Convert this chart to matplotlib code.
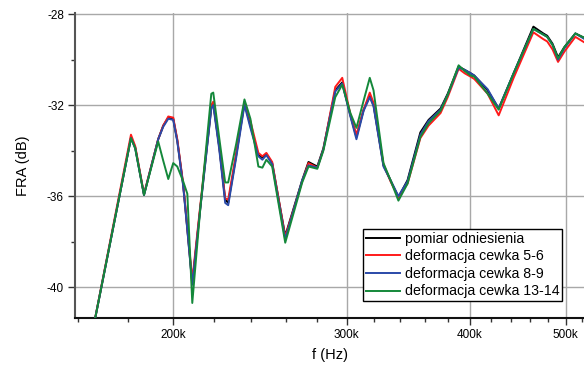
import numpy as np
import matplotlib
matplotlib.use('Agg')
import matplotlib.pyplot as plt
from matplotlib.ticker import FixedLocator, NullFormatter

plt.rcParams['font.family'] = ['Liberation Sans', 'DejaVu Sans']

# frequency in kHz
freq = [164.7, 181.2, 183.0, 186.8, 193.1, 195.4, 197.7, 200.0, 201.9, 204.7,
        206.7, 209.1, 213.0, 218.6, 219.6, 222.7, 225.8, 227.4, 231.7, 236.2,
        239.5, 244.0, 246.3, 248.6, 252.0, 259.8, 270.3, 274.3, 280.0, 284.0,
        292.0, 296.8, 302.5, 306.8, 312.0, 316.5, 319.3, 326.8, 332.2, 338.4,
        345.7, 356.2, 363.1, 373.4, 379.7, 389.5, 395.0, 400.6, 404.0, 416.8,
        427.7, 442.9, 463.8, 474.7, 479.0, 485.0, 491.3, 498.6, 511.6, 522.8]

ref = [-42.5, -33.45, -33.85, -35.95, -33.5, -32.9, -32.55, -32.6, -33.55, -35.5,
       -37.45, -39.85, -36.55, -32.1, -31.9, -33.85, -36.15, -36.3, -34.2, -31.9,
       -32.9, -34.2, -34.3, -34.15, -34.55, -37.75, -35.3, -34.5, -34.7, -33.9,
       -31.35, -31.0, -32.45, -33.4, -32.2, -31.6, -32.0, -34.65, -35.3, -36.05,
       -35.3, -33.2, -32.65, -32.15, -31.5, -30.3, -30.45, -30.6, -30.7, -31.35,
       -32.15, -30.6, -28.55, -28.85, -28.95, -29.3, -29.9, -29.45, -28.85, -29.05]

def_5_6 = [-42.5, -33.3, -33.8, -35.9, -33.5, -32.9, -32.5, -32.55, -33.5, -35.45,
           -37.4, -39.7, -36.45, -32.0, -31.85, -33.8, -36.1, -36.15, -34.1, -31.85,
           -32.7, -34.1, -34.25, -34.1, -34.5, -37.8, -35.35, -34.55, -34.75, -33.95,
           -31.2, -30.8, -32.4, -33.3, -32.2, -31.45, -31.9, -34.6, -35.35, -36.05,
           -35.45, -33.45, -32.9, -32.35, -31.65, -30.4, -30.6, -30.75, -30.85, -31.5,
           -32.45, -30.8, -28.8, -29.1, -29.2, -29.55, -30.1, -29.65, -29.0, -29.25]

def_8_9 = [-42.5, -33.45, -33.9, -35.95, -33.5, -32.95, -32.6, -32.65, -33.6, -35.55,
           -37.5, -39.9, -36.6, -32.15, -32.0, -33.95, -36.3, -36.4, -34.3, -32.0,
           -33.0, -34.25, -34.4, -34.2, -34.6, -37.9, -35.3, -34.65, -34.75, -33.95,
           -31.4, -31.05, -32.5, -33.5, -32.25, -31.65, -32.05, -34.7, -35.3, -36.0,
           -35.35, -33.3, -32.7, -32.2, -31.55, -30.35, -30.45, -30.6, -30.7, -31.3,
           -32.15, -30.6, -28.65, -28.9, -29.0, -29.35, -30.0, -29.5, -28.85, -29.1]

def_13_14 = [-42.5, -33.45, -33.9, -35.95, -33.6, -34.45, -35.25, -34.55, -34.7, -35.35,
             -35.9, -40.7, -36.6, -31.5, -31.45, -33.45, -35.4, -35.4, -33.7, -31.75,
             -32.6, -34.7, -34.75, -34.4, -34.7, -38.05, -35.4, -34.7, -34.8, -34.0,
             -31.65, -31.1, -32.35, -33.0, -31.8, -30.8, -31.35, -34.55, -35.3, -36.2,
             -35.45, -33.4, -32.8, -32.25, -31.55, -30.25, -30.5, -30.7, -30.75, -31.5,
             -32.2, -30.6, -28.65, -28.9, -29.0, -29.35, -29.95, -29.45, -28.85, -29.05]

labels = ['pomiar odniesienia', 'deformacja cewka 5-6',
          'deformacja cewka 8-9', 'deformacja cewka 13-14']
colors = ['#000000', '#ff1a1a', '#2a4aa8', '#14883a']

x_major = [200, 300, 400, 500]
x_major_labels = ['200k', '300k', '400k', '500k']
x_minor = [160, 180, 220, 240, 260, 280, 320, 340, 360, 380, 420, 440, 460, 480, 520]
y_major = [-40, -36, -32, -28]
y_minor = [-38, -34, -30]

fig = plt.figure(figsize=(5.84, 3.65), dpi=100)
ax = fig.add_axes([75 / 584, 1 - 318 / 365, 1 - 75 / 584, (318 - 13) / 365])

for vals, lab, col in zip([ref, def_5_6, def_8_9, def_13_14], labels, colors):
    ax.plot(freq, vals, color=col, lw=1.4, label=lab, zorder=3)

ax.set_xscale('log')
ax.set_xlim(159, 522)
ax.set_ylim(-41.36, -27.95)

ax.xaxis.set_major_locator(FixedLocator(x_major))
ax.set_xticklabels(x_major_labels)
ax.xaxis.set_minor_locator(FixedLocator(x_minor))
ax.xaxis.set_minor_formatter(NullFormatter())
ax.set_yticks(y_major)
ax.set_yticklabels([str(v) for v in y_major])
ax.yaxis.set_minor_locator(FixedLocator(y_minor))

ax.grid(True, which='major', color='#a8a8a8', lw=1.0, zorder=0)
ax.tick_params(which='major', length=5, width=1, labelsize=8.5, color='#333333', pad=3)
ax.tick_params(which='minor', length=3, width=1, color='#333333')

for s in ['top', 'right']:
    ax.spines[s].set_visible(False)
ax.spines['left'].set_color('#555555')
ax.spines['left'].set_linewidth(1.5)
ax.spines['bottom'].set_color('#111111')
ax.spines['bottom'].set_linewidth(1.5)

ax.set_xlabel('f (Hz)', fontsize=10.5, labelpad=5)
ax.set_ylabel('FRA (dB)', fontsize=10.5, labelpad=12)

leg = ax.legend(loc='upper left', bbox_to_anchor=(363 / 584, 1 - 229 / 365),
                bbox_transform=fig.transFigure, fontsize=10.2, frameon=True,
                fancybox=False, framealpha=1, edgecolor='black',
                handlelength=2.4, handletextpad=0.35, labelspacing=0.25,
                borderpad=0.2, borderaxespad=0)
leg.get_frame().set_linewidth(1.0)
leg.set_zorder(5)

fig.savefig('out.png', dpi=100)
